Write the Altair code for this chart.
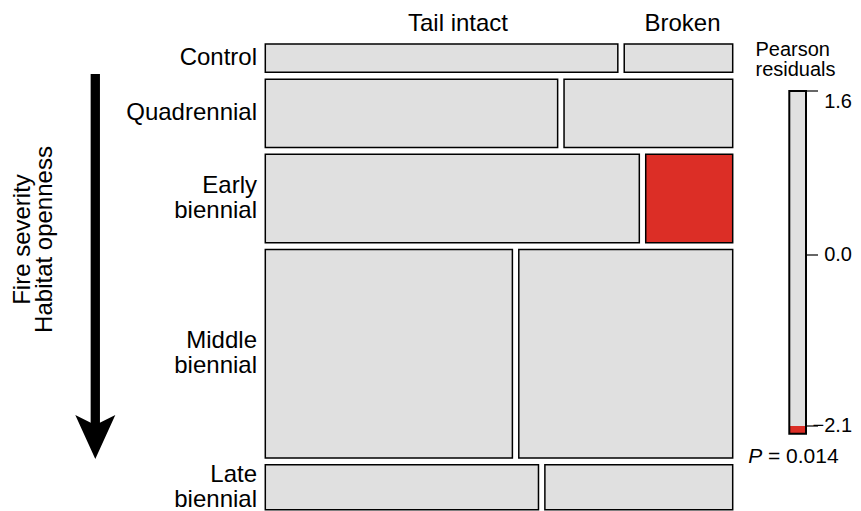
import altair as alt
import pandas as pd
import numpy as np

# ---------------- data ----------------
fire_regimes = ["Control", "Quadrennial", "Early biennial", "Middle biennial", "Late biennial"]
tail_states = ["Tail intact", "Broken"]
tail_intact = [13, 26, 43, 67, 16]
tail_broken = [4, 15, 10, 58, 11]
legend_ticks = [1.6, 0.0, -2.1]
p_value_text = "= 0.014"

FONT = "Liberation Sans"
GREY = "#e0e0e0"
RED = "#dc2e26"
SHADE_CUT = 2.0   # |residual| beyond this is shaded

# ---------------- mosaic geometry from counts ----------------
counts = np.array([tail_intact, tail_broken], dtype=float).T
N = counts.sum()
row_tot = counts.sum(1)
col_tot = counts.sum(0)
expected = np.outer(row_tot, col_tot) / N
resid = (counts - expected) / np.sqrt(expected)

gx = 0.0137   # horizontal gap between cells (fraction of width)
gy = 0.0146   # vertical gap between rows (fraction of height)
nrows = len(fire_regimes)
avail_y = 1 - gy * (nrows - 1)

cells, labels = [], []
y_cur = 0.0
for i, name in enumerate(fire_regimes):
    h = row_tot[i] / N * avail_y
    y0, y1 = y_cur, y_cur + h
    p = counts[i, 0] / row_tot[i]
    spans = [(0.0, p * (1 - gx)), (p * (1 - gx) + gx, 1.0)]
    for j, st in enumerate(tail_states):
        r = resid[i, j]
        band = "neg" if r < -SHADE_CUT else ("pos" if r > SHADE_CUT else "none")
        cells.append(dict(regime=name, tail=st, x0=spans[j][0], x1=spans[j][1],
                          y0=y0, y1=y1, resid=round(float(r), 2), band=band))
    labels.append(dict(label=name.replace(" ", "\n"), yc=(y0 + y1) / 2,
                       multi=(" " in name)))
    y_cur = y1 + gy

cells_df = pd.DataFrame(cells)
labels_df = pd.DataFrame(labels)

xs = alt.Scale(domain=[0, 1], range=[257.3, 724.7], nice=False, zero=False)
ys = alt.Scale(domain=[0, 1], range=[36, 501.7], nice=False, zero=False)

mosaic = alt.Chart(cells_df).mark_rect(stroke="black", strokeWidth=1.5).encode(
    x=alt.X("x0:Q", scale=xs, axis=None),
    x2="x1:Q",
    y=alt.Y("y0:Q", scale=ys, axis=None),
    y2="y1:Q",
    color=alt.Color("band:N", scale=alt.Scale(domain=["neg", "none", "pos"],
                                              range=[RED, GREY, "#2166ac"]), legend=None),
    tooltip=["regime", "tail", "resid"],
)

def row_label_layer(multi):
    return alt.Chart(labels_df).transform_filter(
        alt.datum.multi if multi else ~alt.datum.multi
    ).mark_text(
        align="right", baseline="middle", font=FONT, fontSize=24,
        lineBreak="\n", lineHeight=25, color="black", dy=-12.5 if multi else 0
    ).encode(
        x=alt.value(249),
        y=alt.Y("yc:Q", scale=ys, axis=None),
        text="label:N",
    )

one = pd.DataFrame({"k": [0]})

hdr_intact = alt.Chart(one).mark_text(
    align="center", baseline="alphabetic", font=FONT, fontSize=24, color="black"
).encode(x=alt.value(450), y=alt.value(23), text=alt.value(tail_states[0]))
hdr_broken = alt.Chart(one).mark_text(
    align="center", baseline="alphabetic", font=FONT, fontSize=24, color="black"
).encode(x=alt.value(674.5), y=alt.value(23), text=alt.value(tail_states[1]))

# ---------------- legend ----------------
hi, mid, lo = legend_ticks
bar_lo = float(resid.min())
ls = alt.Scale(domain=[lo, mid, hi], range=[418, 247, 83], nice=False, zero=False)
bar_df = pd.DataFrame({"lo": [bar_lo], "hi": [hi]})
red_df = pd.DataFrame({"lo": [bar_lo], "hi": [lo]})
ticks_df = pd.DataFrame({"v": legend_ticks})

leg_bar = alt.Chart(bar_df).mark_rect(fill=GREY).encode(
    x=alt.value(781.3), x2=alt.value(798),
    y=alt.Y("lo:Q", scale=ls, axis=None), y2="hi:Q")
leg_red = alt.Chart(red_df).mark_rect(fill=RED).encode(
    x=alt.value(781.3), x2=alt.value(798),
    y=alt.Y("lo:Q", scale=ls, axis=None), y2="hi:Q")
leg_outline = alt.Chart(bar_df).mark_rect(fill="transparent", stroke="black", strokeWidth=2).encode(
    x=alt.value(781.3), x2=alt.value(798),
    y=alt.Y("lo:Q", scale=ls, axis=None), y2="hi:Q")
leg_ticks = alt.Chart(ticks_df).mark_rule(color="black", strokeWidth=1.2).encode(
    x=alt.value(798), x2=alt.value(810),
    y=alt.Y("v:Q", scale=ls, axis=None))
leg_lab_top = alt.Chart(ticks_df).transform_filter(alt.datum.v == hi).mark_text(
    align="right", baseline="top", font=FONT, fontSize=20, color="black", dy=1
).encode(x=alt.value(844), y=alt.Y("v:Q", scale=ls, axis=None), text=alt.Text("v:Q", format=".1f"))
leg_lab_rest = alt.Chart(ticks_df).transform_filter(alt.datum.v < hi).mark_text(
    align="right", baseline="middle", font=FONT, fontSize=20, color="black"
).encode(x=alt.value(844), y=alt.Y("v:Q", scale=ls, axis=None), text=alt.Text("v:Q", format=".1f"))

leg_title = alt.Chart(one).mark_text(
    align="left", baseline="alphabetic", font=FONT, fontSize=20, lineBreak="\n",
    lineHeight=20, color="black"
).encode(x=alt.value(747.5), y=alt.value(48), text=alt.value("Pearson\nresiduals"))

p_italic = alt.Chart(one).mark_text(
    align="left", baseline="alphabetic", font=FONT, fontSize=21, fontStyle="italic", color="black"
).encode(x=alt.value(740.3), y=alt.value(455), text=alt.value("P"))
p_rest = alt.Chart(one).mark_text(
    align="left", baseline="alphabetic", font=FONT, fontSize=21, color="black"
).encode(x=alt.value(760), y=alt.value(455), text=alt.value(p_value_text))

# ---------------- arrow and its caption ----------------
shaft = alt.Chart(one).mark_rule(color="black", strokeWidth=9.3).encode(
    x=alt.value(87.3), y=alt.value(66), y2=alt.value(419))
head = alt.Chart(one).mark_point(
    shape="M0,1 L-0.91,-1 L0,-0.55 L0.91,-1 Z", filled=True, size=1936,
    color="black", opacity=1, strokeWidth=0
).encode(x=alt.value(87.3), y=alt.value(429))
cap1 = alt.Chart(one).mark_text(
    angle=270, align="center", baseline="alphabetic", font=FONT, fontSize=24, color="black"
).encode(x=alt.value(21.5), y=alt.value(231.5), text=alt.value("Fire severity"))
cap2 = alt.Chart(one).mark_text(
    angle=270, align="center", baseline="alphabetic", font=FONT, fontSize=24, color="black"
).encode(x=alt.value(43.5), y=alt.value(231.5), text=alt.value("Habitat openness"))

chart = alt.layer(
    mosaic, row_label_layer(False), row_label_layer(True), hdr_intact, hdr_broken,
    leg_bar, leg_red, leg_outline, leg_ticks, leg_lab_top, leg_lab_rest, leg_title,
    p_italic, p_rest, shaft, head, cap1, cap2,
).resolve_scale(x="independent", y="independent").properties(
    width=845, height=503, padding=0, autosize=alt.AutoSizeParams(type="none"),
    background="white",
).configure_view(stroke=None)

chart.save("out.html", embed_options={"renderer": "svg", "actions": False})
